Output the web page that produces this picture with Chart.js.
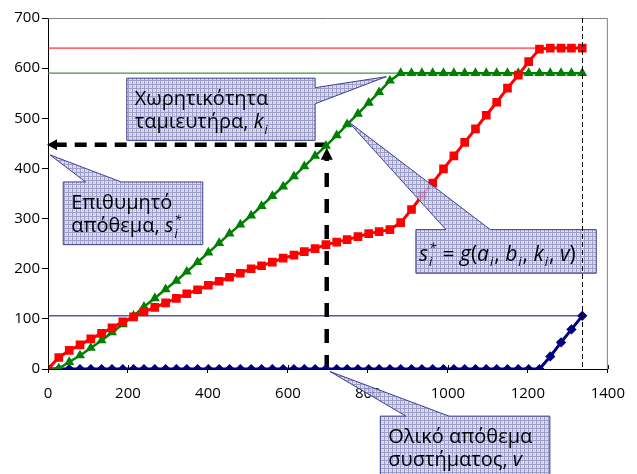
<!DOCTYPE html>
<html>
<head>
<meta charset="utf-8">
<script src="https://cdn.jsdelivr.net/npm/chart.js@4.4.1/dist/chart.umd.min.js"></script>
<style>
  html, body { margin: 0; padding: 0; background: #fff; }
</style>
</head>
<body>
<canvas id="chart" width="637" height="474"></canvas>
<script>
// data
const xValues = [0, 27, 53, 80, 107, 134, 160, 187, 214, 240,
  267, 294, 321, 347, 374, 401, 428, 454, 481, 508,
  534, 561, 588, 615, 641, 668, 695, 722, 748, 775,
  802, 828, 855, 882, 909, 935, 962, 989, 1015, 1042,
  1069, 1096, 1122, 1149, 1176, 1202, 1229, 1256, 1283, 1309, 1336];

const redValues = [0, 23, 37, 48, 60, 71, 82, 94, 104, 114,
  123, 132, 141, 150, 158, 167, 175, 183, 191, 200,
  206, 213, 221, 227, 234, 240, 248, 253, 258, 264,
  270, 274, 278, 292, 318, 346, 371, 399, 425, 452,
  479, 506, 532, 560, 586, 613, 638, 640, 640, 640, 640];

const greenValues = [0, 1, 14, 27, 42, 57, 73, 89, 106, 124,
  141, 159, 176, 194, 213, 232, 251, 270, 288, 306,
  325, 345, 364, 384, 404, 425, 445, 466, 488, 509,
  531, 552, 575, 590, 590, 590, 590, 590, 590, 590,
  590, 590, 590, 590, 590, 590, 590, 590, 590, 590, 590];

const blueValues = [0, 0, 0, 0, 0, 0, 0, 0, 0, 0,
  0, 0, 0, 0, 0, 0, 0, 0, 0, 0,
  0, 0, 0, 0, 0, 0, 0, 0, 0, 0,
  0, 0, 0, 0, 0, 0, 0, 0, 0, 0,
  0, 0, 0, 0, 0, 0, 0, 25, 53, 79, 106];

const redCapacity = 640;
const greenCapacity = 590;
const blueCapacity = 106;
const horizonX = 1336;
const targetPoint = { x: 697, y: 447 };

const FONT = '"Open Sans", "Noto Sans", sans-serif';
const BOX_FONT = 20;

function toPoints(ys) {
  return ys.map((y, i) => ({ x: xValues[i], y: y }));
}
function flatLine(y) {
  return [{ x: 0, y: y }, { x: horizonX, y: y }];
}

// callouts (box and pointer tip in axis units)
const callouts = [
  { box: [197, 668, 580, 456], side: 'right', base: [561, 529], tip: [846, 583],
    lines: [[{ t: 'Χωρητικότητα' }],
            [{ t: 'ταμιευτήρα, ' }, { t: 'k', it: true, sub: 'i' }]] },
  { box: [38, 387, 373, 248], side: 'top', base: [94, 183], tip: [5, 427],
    lines: [[{ t: 'Επιθυμητό' }],
            [{ t: 'απόθεμα, ' }, { t: 's', it: true, sub: 'i', sup: '*' }]] },
  { box: [920, 1371, 278, 191], side: 'top', base: [995, 1106], tip: [750, 494], pad: 3, first: 31, size: 21,
    lines: [[{ t: 's', it: true, sub: 'i', sup: '*' }, { t: ' = ' }, { t: 'g', it: true }, { t: '(' },
             { t: 'a', it: true, sub: 'i' }, { t: ', ' }, { t: 'b', it: true, sub: 'i' }, { t: ', ' },
             { t: 'k', it: true, sub: 'i' }, { t: ', ' }, { t: 'v', it: true }, { t: ')' }]] },
  { box: [831, 1255, -94, -240], side: 'top', base: [895, 1003], tip: [705, -5],
    lines: [[{ t: 'Ολικό απόθεμα' }],
            [{ t: 'συστήματος, ' }, { t: 'v', it: true }]] }
];

function makePattern(ctx) {
  const p = document.createElement('canvas');
  p.width = 4; p.height = 4;
  const g = p.getContext('2d');
  g.fillStyle = '#d8d8ec';
  g.fillRect(0, 0, 4, 4);
  g.fillStyle = '#8c8cc0';
  g.fillRect(0, 0, 4, 1);
  g.fillRect(0, 0, 1, 4);
  g.fillStyle = '#b4b4d6';
  g.fillRect(2, 2, 1, 1);
  return ctx.createPattern(p, 'repeat');
}

function drawRuns(ctx, runs, x, y, size) {
  for (const r of runs) {
    ctx.font = (r.it ? 'italic ' : '') + size + 'px ' + FONT;
    ctx.fillText(r.t, x, y);
    x += ctx.measureText(r.t).width;
    if (r.sub || r.sup) {
      const small = Math.round(size * 0.62);
      ctx.font = 'italic ' + small + 'px ' + FONT;
      let w = 0;
      if (r.sub) {
        ctx.fillText(r.sub, x + 1, y + size * 0.28);
        w = Math.max(w, ctx.measureText(r.sub).width);
      }
      if (r.sup) {
        ctx.fillText(r.sup, x + 1, y - size * 0.42);
        w = Math.max(w, ctx.measureText(r.sup).width);
      }
      x += w + 2;
    }
  }
}

const annotations = {
  id: 'annotations',
  beforeDatasetsDraw(chart) {
    const ctx = chart.ctx;
    const sx = chart.scales.x, sy = chart.scales.y;
    const px = sx.getPixelForValue(targetPoint.x);
    const py = sy.getPixelForValue(targetPoint.y);
    const left = sx.getPixelForValue(0);
    const bottom = sy.getPixelForValue(0);
    ctx.save();
    ctx.strokeStyle = '#000';
    ctx.fillStyle = '#000';
    ctx.lineWidth = 4.5;
    // horizontal arrow to the y axis
    ctx.setLineDash([12, 8]);
    ctx.beginPath();
    ctx.moveTo(px, py);
    ctx.lineTo(left + 9, py);
    ctx.stroke();
    // vertical arrow up from the x axis
    ctx.setLineDash([14, 12]);
    ctx.beginPath();
    ctx.moveTo(px, bottom);
    ctx.lineTo(px, py + 14);
    ctx.stroke();
    ctx.setLineDash([]);
    ctx.beginPath();
    ctx.moveTo(left - 1, py);
    ctx.lineTo(left + 9, py - 5.5);
    ctx.lineTo(left + 9, py + 5.5);
    ctx.closePath();
    ctx.fill();
    ctx.beginPath();
    ctx.moveTo(px, py + 3);
    ctx.lineTo(px - 6, py + 15);
    ctx.lineTo(px + 6, py + 15);
    ctx.closePath();
    ctx.fill();
    ctx.restore();
  },
  afterDraw(chart) {
    const ctx = chart.ctx;
    const sx = chart.scales.x, sy = chart.scales.y;
    const a = chart.chartArea;
    ctx.save();
    // plot area frame (top and right)
    ctx.strokeStyle = '#808080';
    ctx.lineWidth = 1;
    ctx.beginPath();
    ctx.moveTo(a.left, a.top + 0.5);
    ctx.lineTo(a.right - 0.5, a.top + 0.5);
    ctx.lineTo(a.right - 0.5, a.bottom);
    ctx.stroke();
    // x ticks crossing into the plot
    ctx.strokeStyle = '#000';
    sx.ticks.forEach(t => {
      const x = Math.round(sx.getPixelForValue(t.value)) + 0.5;
      ctx.beginPath();
      ctx.moveTo(x, a.bottom - 4);
      ctx.lineTo(x, a.bottom);
      ctx.stroke();
    });

    // callouts
    const pattern = makePattern(ctx);
    callouts.forEach(c => {
      const L = sx.getPixelForValue(c.box[0]), R = sx.getPixelForValue(c.box[1]);
      const T = sy.getPixelForValue(c.box[2]), B = sy.getPixelForValue(c.box[3]);
      const tx = sx.getPixelForValue(c.tip[0]), ty = sy.getPixelForValue(c.tip[1]);
      ctx.beginPath();
      ctx.moveTo(L, T);
      if (c.side === 'top') {
        ctx.lineTo(sx.getPixelForValue(c.base[0]), T);
        ctx.lineTo(tx, ty);
        ctx.lineTo(sx.getPixelForValue(c.base[1]), T);
        ctx.lineTo(R, T);
        ctx.lineTo(R, B);
      } else {
        ctx.lineTo(R, T);
        ctx.lineTo(R, sy.getPixelForValue(c.base[0]));
        ctx.lineTo(tx, ty);
        ctx.lineTo(R, sy.getPixelForValue(c.base[1]));
        ctx.lineTo(R, B);
      }
      ctx.lineTo(L, B);
      ctx.closePath();
      ctx.globalAlpha = 0.85;
      ctx.fillStyle = pattern;
      ctx.fill();
      ctx.globalAlpha = 1;
      ctx.strokeStyle = '#3d3d8f';
      ctx.lineWidth = 1;
      ctx.stroke();
      ctx.fillStyle = '#000';
      ctx.textBaseline = 'alphabetic';
      ctx.textAlign = 'left';
      const pad = c.pad !== undefined ? c.pad : 8;
      const first = c.first !== undefined ? c.first : 27;
      c.lines.forEach((line, k) => {
        drawRuns(ctx, line, L + pad, T + first + k * 23, c.size || BOX_FONT);
      });
    });

    // end of horizon, thin dashed
    const hx = Math.round(sx.getPixelForValue(horizonX)) + 0.5;
    ctx.strokeStyle = '#000';
    ctx.lineWidth = 1;
    ctx.setLineDash([5, 3]);
    ctx.beginPath();
    ctx.moveTo(hx, a.top);
    ctx.lineTo(hx, a.bottom);
    ctx.stroke();
    ctx.restore();
  }
};

new Chart(document.getElementById('chart'), {
  type: 'line',
  data: {
    datasets: [
      { data: toPoints(redValues), borderColor: '#ff0000', backgroundColor: '#ff0000',
        borderWidth: 3, pointStyle: 'rect', pointRadius: 4, order: 0 },
      { data: toPoints(greenValues), borderColor: '#008000', backgroundColor: '#008000',
        borderWidth: 2.5, pointStyle: 'triangle', pointRadius: 3.3, order: 1 },
      { data: toPoints(blueValues), borderColor: '#000080', backgroundColor: '#000080',
        borderWidth: 3, pointStyle: 'rectRot', pointRadius: 3, order: 2 },
      { data: flatLine(redCapacity), borderColor: '#ff0000', borderWidth: 1, pointRadius: 0, order: 3 },
      { data: flatLine(greenCapacity), borderColor: '#3a9a3a', borderWidth: 1.2, pointRadius: 0, order: 3 },
      { data: flatLine(blueCapacity), borderColor: '#000080', borderWidth: 1, pointRadius: 0, order: 3 }
    ]
  },
  options: {
    responsive: false,
    animation: false,
    events: [],
    layout: { padding: { top: 18, right: 25, left: 0, bottom: 0 } },
    plugins: { legend: { display: false }, tooltip: { enabled: false } },
    scales: {
      x: {
        type: 'linear', min: 0, max: 1400,
        ticks: { stepSize: 200, color: '#000', padding: 12, font: { family: FONT, size: 15 }, maxRotation: 0,
                 callback: v => String(v) },
        grid: { drawOnChartArea: false, tickLength: 4, color: '#000' },
        border: { color: '#000', width: 1 },
        afterFit: s => { s.height = 105; }
      },
      y: {
        min: 0, max: 700,
        ticks: { stepSize: 100, color: '#000', padding: 2, font: { family: FONT, size: 15 } },
        grid: { drawOnChartArea: false, tickLength: 6, color: '#000' },
        border: { color: '#000', width: 1 },
        afterFit: s => { s.width = 48; }
      }
    }
  },
  plugins: [annotations]
});
</script>
</body>
</html>
